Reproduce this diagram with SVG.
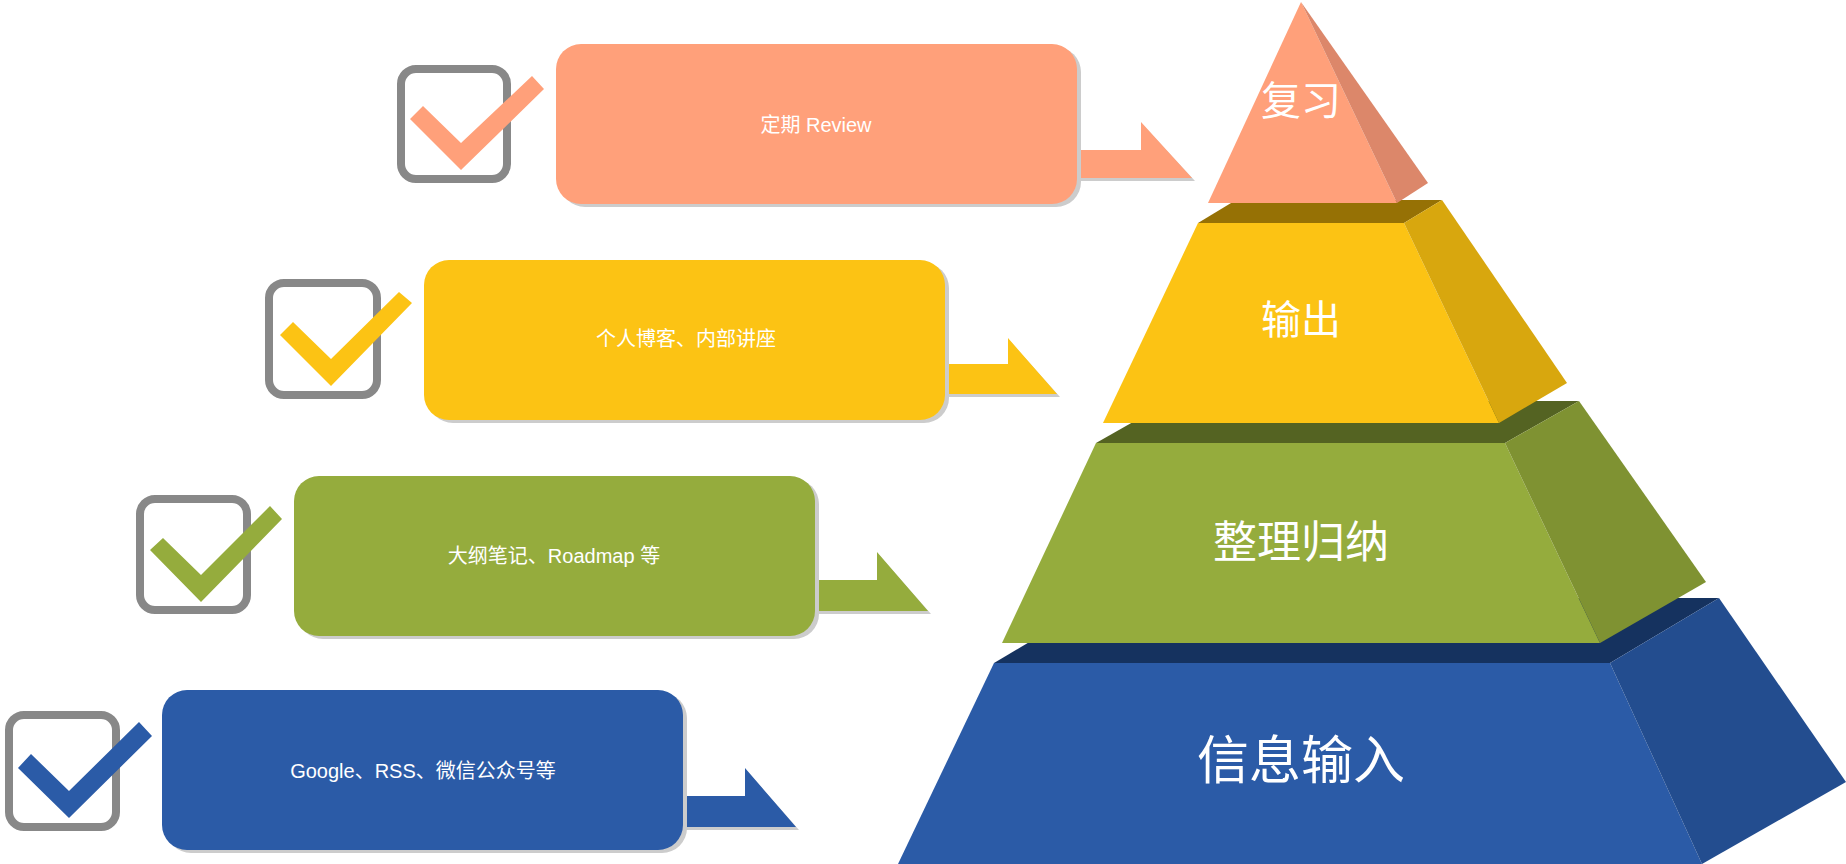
<svg xmlns="http://www.w3.org/2000/svg" width="1846" height="864" viewBox="0 0 1846 864">
<style>
.lbl{font-family:"Liberation Sans","Noto Sans CJK SC",sans-serif;font-size:20px;fill:#fff;text-anchor:middle;dominant-baseline:central}
.plbl{font-family:"Liberation Sans","Noto Sans CJK SC",sans-serif;fill:#fff;text-anchor:middle;dominant-baseline:central}
.shadow{fill:#cccccc}
.cb{fill:none;stroke:#888888;stroke-width:8}
.salmon{fill:#FFA07A}.yellow{fill:#FCC314}.green{fill:#95AC3D}.blue{fill:#2B5BA7}
</style>
<rect width="1846" height="864" fill="#ffffff"/>
<g id="pyramid-input">
<polygon points="994,663 1610,663 1719,598 1103,598" fill="#15325F"/>
<polygon points="994,663 1610,663 1702,864 898,864" class="blue"/>
<polygon points="1610,663 1719,598 1846,782 1702,864" fill="#234D8F"/>
<text class="plbl" x="1301" y="761" font-size="52">信息输入</text>
</g>
<g id="pyramid-organize">
<polygon points="1096,443 1505,443 1579,401 1170,401" fill="#546322"/>
<polygon points="1096,443 1505,443 1600,643 1002,643" class="green"/>
<polygon points="1505,443 1579,401 1706,582 1600,643" fill="#7F9232"/>
<text class="plbl" x="1301" y="542" font-size="44">整理归纳</text>
</g>
<g id="pyramid-output">
<polygon points="1198,223 1404,223 1442,200 1236,200" fill="#967105"/>
<polygon points="1198,223 1404,223 1499,423 1103,423" class="yellow"/>
<polygon points="1404,223 1442,200 1567,383 1499,423" fill="#D8A70E"/>
<text class="plbl" x="1301" y="320" font-size="40">输出</text>
</g>
<g id="pyramid-review">
<polygon points="1301,2 1397,203 1208,203" class="salmon"/>
<polygon points="1301,2 1428,183 1397,203" fill="#DC876A"/>
<text class="plbl" x="1301" y="101" font-size="40">复习</text>
</g>
<g id="connectors">
<polygon class="shadow" points="1067,153 1143,153 1143,125 1195,181 1067,181"/>
<polygon class="salmon" points="1065,150 1141,150 1141,122 1192,178 1065,178"/>
<polygon class="shadow" points="938,367 1010,367 1010,341 1060,397 938,397"/>
<polygon class="yellow" points="936,364 1008,364 1008,338 1057,394 936,394"/>
<polygon class="shadow" points="805,583 879,583 879,555 931,614 805,614"/>
<polygon class="green" points="803,580 877,580 877,552 928,611 803,611"/>
<polygon class="shadow" points="674,799 747,799 747,771 799,830 674,830"/>
<polygon class="blue" points="672,796 745,796 745,768 796,827 672,827"/>
</g>
<g id="box-review">
<rect class="shadow" x="560" y="47" width="521" height="160" rx="25"/>
<rect class="salmon" x="556" y="44" width="521" height="160" rx="25"/>
<text class="lbl" x="816" y="125">定期 Review</text>
</g>
<g id="box-output">
<rect class="shadow" x="428" y="263" width="521" height="160" rx="25"/>
<rect class="yellow" x="424" y="260" width="521" height="160" rx="25"/>
<text class="lbl" x="686" y="339">个人博客、内部讲座</text>
</g>
<g id="box-organize">
<rect class="shadow" x="298" y="479" width="521" height="160" rx="25"/>
<rect class="green" x="294" y="476" width="521" height="160" rx="25"/>
<text class="lbl" x="554" y="556">大纲笔记、Roadmap 等</text>
</g>
<g id="box-input">
<rect class="shadow" x="166" y="693" width="521" height="160" rx="25"/>
<rect class="blue" x="162" y="690" width="521" height="160" rx="25"/>
<text class="lbl" x="423" y="771">Google、RSS、微信公众号等</text>
</g>
<g id="check-review">
<rect class="cb" x="401" y="69" width="106" height="110" rx="15"/>
<polygon class="salmon" points="410,119 423,106 461,143 532,76 544,89 461,170"/>
</g>
<g id="check-output">
<rect class="cb" x="269" y="283" width="108" height="112" rx="15"/>
<polygon class="yellow" points="280,335 293,322 331,359 399,292 412,303 331,386"/>
</g>
<g id="check-organize">
<rect class="cb" x="140" y="499" width="107" height="111" rx="15"/>
<polygon class="green" points="150,550 163,538 201,575 270,506 282,519 201,602"/>
</g>
<g id="check-input">
<rect class="cb" x="9" y="715" width="107" height="112" rx="15"/>
<polygon class="blue" points="18,768 31,754 69,791 139,722 152,736 69,818"/>
</g>
</svg>
